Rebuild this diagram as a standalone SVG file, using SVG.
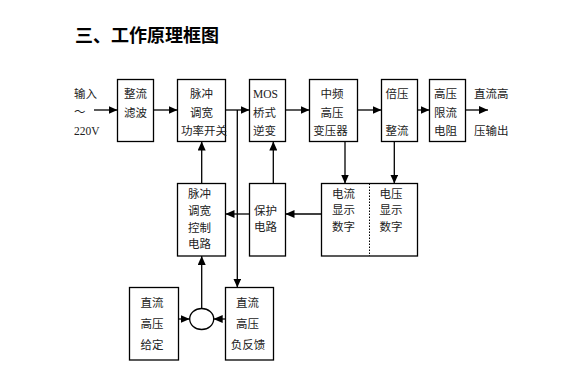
<svg xmlns="http://www.w3.org/2000/svg" width="561" height="391" viewBox="0 0 561 391">
<defs>
<marker id="ah" markerWidth="9" markerHeight="8" refX="9" refY="4" orient="auto" markerUnits="userSpaceOnUse"><path d="M0,0 L9,4 L0,8 Z" fill="#000"/></marker>
<style>
.b{fill:#fff;stroke:#000;stroke-width:1.3}
.l{fill:none;stroke:#000;stroke-width:1.3}
.a{fill:none;stroke:#000;stroke-width:1.3;marker-end:url(#ah)}
.t{font-family:"Noto Sans CJK SC","Noto Sans",sans-serif;font-size:11.5px;fill:#222}
.c{text-anchor:middle}
.s{font-family:"Liberation Serif",serif;font-size:11.5px;fill:#222}
.h{font-family:"Noto Sans CJK SC",sans-serif;font-size:18px;font-weight:bold;fill:#000}
</style>
</defs>
<rect width="561" height="391" fill="#fff"/>
<text class="h" x="75" y="42">三、工作原理框图</text>
<g id="input"><text class="t" x="74" y="98">输入</text><text class="t" x="74" y="116">～</text><text class="s" x="74" y="135">220V</text></g>
<g id="n1"><rect class="b" x="117.5" y="79.5" width="36" height="62"/><text class="t c" x="135.5" y="97.5">整流</text><text class="t c" x="135.5" y="117">滤波</text></g>
<g id="n2"><rect class="b" x="177.5" y="79.5" width="48" height="62"/><text class="t c" x="201.5" y="97.5">脉冲</text><text class="t c" x="201.5" y="117">调宽</text><text class="t c" x="204" y="135">功率开关</text></g>
<g id="n3"><rect class="b" x="249.5" y="79.5" width="36" height="62"/><text class="s" x="253" y="98">MOS</text><text class="t" x="253" y="117">桥式</text><text class="t" x="253" y="135">逆变</text></g>
<g id="n4"><rect class="b" x="309.5" y="79.5" width="48" height="62"/><text class="t c" x="332" y="97.5">中频</text><text class="t c" x="332" y="117">高压</text><text class="t c" x="330.5" y="135">变压器</text></g>
<g id="n5"><rect class="b" x="381.5" y="79.5" width="36" height="62"/><text class="t" x="385.5" y="97.5">倍压</text><text class="t" x="385.5" y="135">整流</text></g>
<g id="n6"><rect class="b" x="429.5" y="79.5" width="36" height="62"/><text class="t" x="434" y="97.5">高压</text><text class="t" x="434" y="117">限流</text><text class="t" x="434" y="135">电阻</text></g>
<g id="output"><text class="t" x="474" y="98">直流高</text><text class="t" x="474" y="135">压输出</text></g>
<g id="n7"><rect class="b" x="177.5" y="183.5" width="48" height="72.5"/><text class="t c" x="199.5" y="198">脉冲</text><text class="t c" x="199.5" y="215">调宽</text><text class="t c" x="199.5" y="232">控制</text><text class="t c" x="199.5" y="248">电路</text></g>
<g id="n8"><rect class="b" x="249.5" y="183.5" width="36" height="72.5"/><text class="t" x="254" y="215">保护</text><text class="t" x="254" y="231">电路</text></g>
<g id="n9"><rect class="b" x="321.5" y="183.5" width="96" height="72.5"/><line x1="369.5" y1="183.5" x2="369.5" y2="256" stroke="#000" stroke-width="1" stroke-dasharray="1.5,1.5"/><text class="t c" x="343.5" y="197.5">电流</text><text class="t c" x="343.5" y="214">显示</text><text class="t c" x="343.5" y="231">数字</text><text class="t c" x="391" y="197.5">电压</text><text class="t c" x="391" y="214">显示</text><text class="t c" x="391" y="231">数字</text></g>
<g id="n10"><rect class="b" x="129.5" y="287.5" width="49" height="72.5"/><text class="t c" x="152" y="307">直流</text><text class="t c" x="152" y="328">高压</text><text class="t c" x="152" y="349">给定</text></g>
<g id="n11"><ellipse class="b" cx="201.7" cy="319" rx="12" ry="10.5"/></g>
<g id="n12"><rect class="b" x="225.5" y="287.5" width="48" height="72.5"/><text class="t c" x="247.5" y="307">直流</text><text class="t c" x="247.5" y="328">高压</text><text class="t c" x="248" y="349">负反馈</text></g>
<g id="connectors">
<line class="a" x1="94" y1="110" x2="117.5" y2="110"/>
<line class="a" x1="153.5" y1="110" x2="177.5" y2="110"/>
<line class="a" x1="225.5" y1="110" x2="249.5" y2="110"/>
<polyline class="a" points="237.3,110 237.3,287.5"/>
<line class="a" x1="285.5" y1="110" x2="309.5" y2="110"/>
<line class="a" x1="357.5" y1="110" x2="381.5" y2="110"/>
<line class="a" x1="417.5" y1="110" x2="429.5" y2="110"/>
<line class="a" x1="465.5" y1="110" x2="488" y2="110"/>
<line class="a" x1="345" y1="141.5" x2="345" y2="183.5"/>
<line class="a" x1="394.3" y1="141.5" x2="394.3" y2="183.5"/>
<line class="a" x1="321.5" y1="214" x2="285.5" y2="214"/>
<line class="a" x1="249.5" y1="214" x2="225.5" y2="214"/>
<line class="a" x1="273.3" y1="183.5" x2="273.3" y2="141.5"/>
<line class="a" x1="201.7" y1="183.5" x2="201.7" y2="141.5"/>
<line class="a" x1="201.7" y1="308.5" x2="201.7" y2="256"/>
<line class="a" x1="178.5" y1="319" x2="189.7" y2="319"/>
<line class="a" x1="225.5" y1="319" x2="213.7" y2="319"/>
</g>
</svg>
